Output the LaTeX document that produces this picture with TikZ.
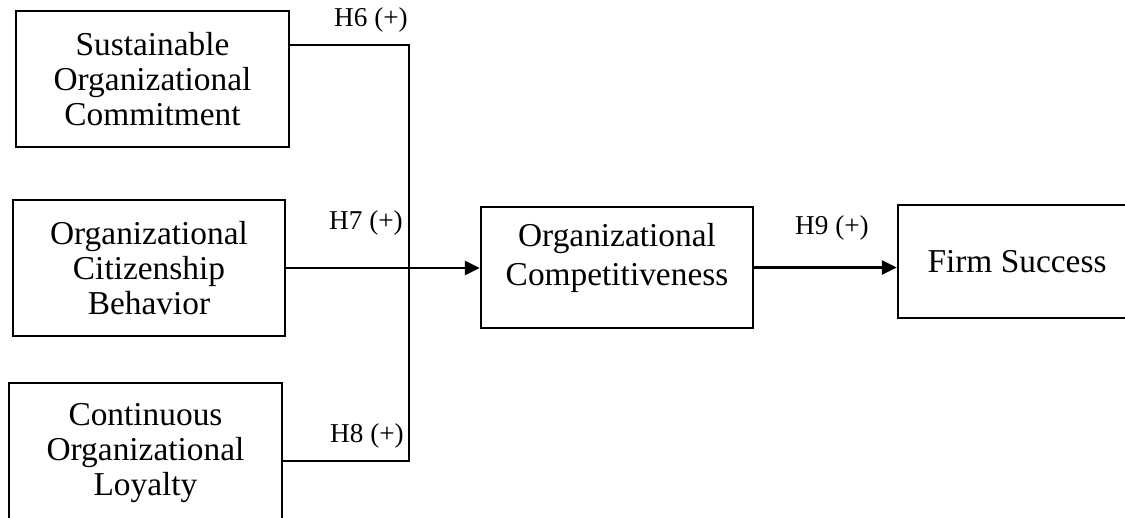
\documentclass[tikz,border=0pt]{standalone}
\usepackage{fontspec}
\setmainfont{Liberation Serif}
\usepackage{tikz}
\usetikzlibrary{arrows.meta}

\tikzset{
    varbox/.style={draw, line width=1.4pt, align=center, inner sep=0pt,
        font=\fontsize{19}{20}\selectfont},
    boxtext/.style={align=center, inner sep=0pt, font=\fontsize{19}{22}\selectfont},
    hyp/.style={font=\fontsize{15.5}{17}\selectfont, inner sep=0pt},
    link/.style={line width=1.4pt},
    path/.style={line width=1.4pt, -{Triangle[length=8.5pt,width=8pt]}}
}

\begin{document}
\begin{tikzpicture}[x=0.02cm,y=-0.02cm]
    \useasboundingbox (0,0) rectangle (1125,517);
    \node[varbox, minimum width=273*0.02cm, minimum height=136*0.02cm] (soc) at (152.5,79) {Sustainable\\Organizational\\Commitment};
    \node[varbox, minimum width=272*0.02cm, minimum height=136*0.02cm] (ocb) at (149,268) {Organizational\\Citizenship\\Behavior};
    \node[varbox, minimum width=273*0.02cm, minimum height=140*0.02cm] (col) at (145.5,453) {Continuous\\Organizational\\Loyalty};
    \node[varbox, minimum width=272*0.02cm, minimum height=121*0.02cm] (oc) at (617,267.5) {};
    \node[boxtext] (octext) at (617,258) {Organizational\\Competitiveness};
    \node[varbox, minimum width=238*0.02cm, minimum height=113*0.02cm] (fs) at (1017,261.5) {Firm Success};
    \coordinate (jtop) at (409,45);
    \coordinate (jbot) at (409,461);
    \draw[link] (soc.east |- jtop) -- (jtop) -- (jbot) -- (col.east |- jbot);
    \draw[path] (ocb.east) -- (ocb.east -| oc.west);
    \draw[path] (oc.east) -- (oc.east -| fs.west);
    \node[hyp] (h6) at (371,20) {H6 (+)};
    \node[hyp] (h7) at (366,223) {H7 (+)};
    \node[hyp] (h8) at (367,436) {H8 (+)};
    \node[hyp] (h9) at (832,228) {H9 (+)};
\end{tikzpicture}
\end{document}
